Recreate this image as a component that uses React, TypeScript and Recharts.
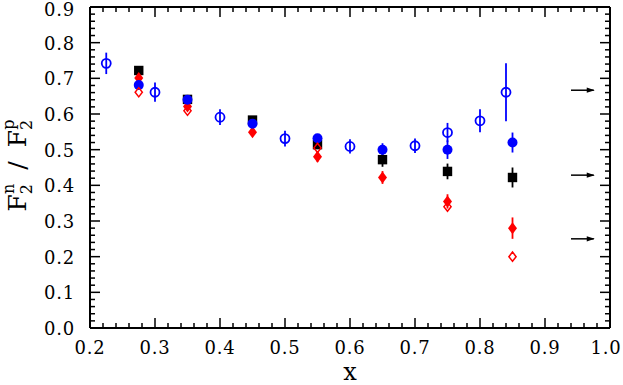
import React from 'react';
import { ScatterChart, Scatter, XAxis, YAxis, ErrorBar } from 'recharts';

// ---------- data ----------
const openBlueX = [0.225, 0.3, 0.4, 0.5, 0.6, 0.7, 0.75, 0.8, 0.84];
const openBlueY = [0.742, 0.661, 0.591, 0.531, 0.509, 0.511, 0.548, 0.581, 0.661];
const openBlueErr = [0.03, 0.027, 0.022, 0.022, 0.02, 0.02, 0.027, 0.032, 0.081];

const filledX = [0.275, 0.35, 0.45, 0.55, 0.65, 0.75, 0.85];
const blueY = [0.681, 0.64, 0.573, 0.532, 0.5, 0.5, 0.52];
const blueErr = [0.01, 0.01, 0.01, 0.012, 0.018, 0.026, 0.028];
const blackY = [0.722, 0.641, 0.583, 0.514, 0.472, 0.439, 0.422];
const blackErr = [0.01, 0.01, 0.01, 0.012, 0.02, 0.022, 0.028];
const redY = [0.701, 0.621, 0.549, 0.48, 0.422, 0.355, 0.28];
const redErr = [0.01, 0.01, 0.01, 0.015, 0.018, 0.02, 0.03];

const openRedX = [0.275, 0.35, 0.55, 0.75, 0.85];
const openRedY = [0.661, 0.609, 0.505, 0.34, 0.2];

const arrowLevels = [2 / 3, 3 / 7, 1 / 4];
const arrowStartX = 0.94;
const arrowEndX = 0.975;

const xMajor = [0.2, 0.3, 0.4, 0.5, 0.6, 0.7, 0.8, 0.9, 1.0];
const yMajor = [0.0, 0.1, 0.2, 0.3, 0.4, 0.5, 0.6, 0.7, 0.8, 0.9];

// ---------- helpers ----------
const BLUE = '#0000ff';
const RED = '#ff0000';
const BLACK = '#000000';
const FONT = '"DejaVu Serif", serif';

function withMinor(major: number[], sub: number) {
  const out: number[] = [];
  for (let i = 0; i < major.length - 1; i++) {
    for (let k = 0; k < sub; k++) {
      out.push(+(major[i] + (k * (major[i + 1] - major[i])) / sub).toFixed(4));
    }
  }
  out.push(major[major.length - 1]);
  return out;
}
const xTicks = withMinor(xMajor, 5);
const yTicks = withMinor(yMajor, 5);
const isMajor = (v: number) => Math.abs(v * 10 - Math.round(v * 10)) < 1e-6;

const zip = (xs: number[], ys: number[], es?: number[]) =>
  xs.map((x, i) => ({ x, y: ys[i], e: es ? es[i] : 0 }));

const openBlueData = zip(openBlueX, openBlueY, openBlueErr);
const blueData = zip(filledX, blueY, blueErr);
const blackData = zip(filledX, blackY, blackErr);
const redData = zip(filledX, redY, redErr);
const openRedData = zip(openRedX, openRedY);

const MAJ = 10;
const MIN = 5;
const TW = 1.5;
const labelStyle = { fontFamily: FONT, fontSize: 18, letterSpacing: 0.8 };

const BottomTick = (p: any) => {
  const v = p.payload.value;
  const m = isMajor(v);
  return (
    <g>
      <line x1={p.x} x2={p.x} y1={p.y} y2={p.y - (m ? MAJ : MIN)} stroke={BLACK} strokeWidth={TW} />
      {m && (
        <text x={Math.min(p.x, 606)} y={p.y + 26} textAnchor="middle" fill={BLACK} style={labelStyle}>
          {v.toFixed(1)}
        </text>
      )}
    </g>
  );
};
const TopTick = (p: any) => {
  const m = isMajor(p.payload.value);
  return <line x1={p.x} x2={p.x} y1={p.y} y2={p.y + (m ? MAJ : MIN)} stroke={BLACK} strokeWidth={TW} />;
};
const LeftTick = (p: any) => {
  const v = p.payload.value;
  const m = isMajor(v);
  return (
    <g>
      <line x1={p.x} x2={p.x + (m ? MAJ : MIN)} y1={p.y} y2={p.y} stroke={BLACK} strokeWidth={TW} />
      {m && (
        <text x={p.x - 15} y={Math.max(p.y + 7, 16)} textAnchor="end" fill={BLACK} style={labelStyle}>
          {v.toFixed(1)}
        </text>
      )}
    </g>
  );
};
const RightTick = (p: any) => {
  const m = isMajor(p.payload.value);
  return <line x1={p.x} x2={p.x - (m ? MAJ : MIN)} y1={p.y} y2={p.y} stroke={BLACK} strokeWidth={TW} />;
};

// ---------- markers ----------
const OpenCircle = (p: any) =>
  p.cx == null ? <g /> : <circle cx={p.cx} cy={p.cy} r={4.5} fill="none" stroke={BLUE} strokeWidth={1.8} />;
const FilledCircle = (p: any) =>
  p.cx == null ? <g /> : <circle cx={p.cx} cy={p.cy} r={5} fill={BLUE} />;
const Square = (p: any) =>
  p.cx == null ? <g /> : <rect x={p.cx - 4.7} y={p.cy - 4.7} width={9.4} height={9.4} fill={BLACK} />;
const FilledDiamond = (p: any) =>
  p.cx == null ? (
    <g />
  ) : (
    <polygon
      points={`${p.cx},${p.cy - 6} ${p.cx + 4.5},${p.cy} ${p.cx},${p.cy + 6} ${p.cx - 4.5},${p.cy}`}
      fill={RED}
    />
  );
const OpenDiamond = (p: any) =>
  p.cx == null ? (
    <g />
  ) : (
    <polygon
      points={`${p.cx},${p.cy - 4.6} ${p.cx + 3.6},${p.cy} ${p.cx},${p.cy + 4.6} ${p.cx - 3.6},${p.cy}`}
      fill="none"
      stroke={RED}
      strokeWidth={1.5}
    />
  );
const ArrowHead = (p: any) => {
  if (p.cx == null || !p.payload || p.payload.x !== arrowEndX) return <g />;
  return <polygon points={`${p.cx + 1},${p.cy} ${p.cx - 7},${p.cy - 2.6} ${p.cx - 7},${p.cy + 2.6}`} fill={BLACK} />;
};

const YLabel = (props: any) => {
  const vb = props.viewBox || { x: 0, y: 7, width: 90, height: 321 };
  const cx = vb.x + 26;
  const cy = vb.y + vb.height / 2 - 2;
  return (
    <text
      x={cx}
      y={cy}
      transform={`rotate(-90 ${cx} ${cy})`}
      textAnchor="middle"
      fill={BLACK}
      style={{ fontFamily: FONT, fontSize: 25 }}
    >
      F
      <tspan fontSize={16} dy={6}>2</tspan>
      <tspan fontSize={16} dx={-10} dy={-18}>n</tspan>
      <tspan dx={14} dy={12}>/</tspan>
      <tspan dx={14}>F</tspan>
      <tspan fontSize={16} dy={6}>2</tspan>
      <tspan fontSize={16} dx={-10} dy={-18}>p</tspan>
    </text>
  );
};

const XLabel = (props: any) => {
  const vb = props.viewBox || { x: 90, y: 328, width: 520, height: 57 };
  const cx = vb.x + vb.width / 2;
  return (
    <text x={cx} y={vb.y + 52} textAnchor="middle" fill={BLACK} style={{ fontFamily: FONT, fontSize: 24 }}>
      x
    </text>
  );
};

export default function App() {
  return (
    <div style={{ position: 'absolute', left: 0, top: 0, width: 623, height: 385, background: '#fff' }}>
      <ScatterChart width={623} height={385} margin={{ top: 0, right: 0, bottom: 0, left: 0 }}>
        <XAxis
          xAxisId={0}
          type="number"
          dataKey="x"
          domain={[0.2, 1.0]}
          ticks={xTicks}
          interval={0}
          allowDataOverflow
          height={57}
          tickSize={0}
          tickMargin={0}
          tick={BottomTick}
          axisLine={{ stroke: BLACK, strokeWidth: 2 }}
          label={{ content: XLabel }}
        />
        <XAxis
          xAxisId="top"
          orientation="top"
          type="number"
          dataKey="x"
          domain={[0.2, 1.0]}
          ticks={xTicks}
          interval={0}
          allowDataOverflow
          height={7}
          tickSize={0}
          tickMargin={0}
          tick={TopTick}
          axisLine={{ stroke: BLACK, strokeWidth: 2 }}
        />
        <YAxis
          yAxisId={0}
          type="number"
          dataKey="y"
          domain={[0, 0.9]}
          ticks={yTicks}
          interval={0}
          allowDataOverflow
          width={90}
          tickSize={0}
          tickMargin={0}
          tick={LeftTick}
          axisLine={{ stroke: BLACK, strokeWidth: 2 }}
          label={{ content: YLabel }}
        />
        <YAxis
          yAxisId="right"
          orientation="right"
          type="number"
          dataKey="y"
          domain={[0, 0.9]}
          ticks={yTicks}
          interval={0}
          allowDataOverflow
          width={13}
          tickSize={0}
          tickMargin={0}
          tick={RightTick}
          axisLine={{ stroke: BLACK, strokeWidth: 2 }}
        />
        <Scatter data={blackData} shape={Square} isAnimationActive={false}>
          <ErrorBar dataKey="e" direction="y" width={0} stroke={BLACK} strokeWidth={1.8} />
        </Scatter>
        <Scatter data={redData} shape={FilledDiamond} isAnimationActive={false}>
          <ErrorBar dataKey="e" direction="y" width={0} stroke={RED} strokeWidth={1.8} />
        </Scatter>
        <Scatter data={blueData} shape={FilledCircle} isAnimationActive={false}>
          <ErrorBar dataKey="e" direction="y" width={0} stroke={BLUE} strokeWidth={1.8} />
        </Scatter>
        <Scatter data={openRedData} shape={OpenDiamond} isAnimationActive={false} />
        <Scatter data={openBlueData} shape={OpenCircle} isAnimationActive={false}>
          <ErrorBar dataKey="e" direction="y" width={0} stroke={BLUE} strokeWidth={1.8} />
        </Scatter>
        {arrowLevels.map((lv, i) => (
          <Scatter
            key={i}
            data={[
              { x: arrowStartX, y: lv },
              { x: arrowEndX, y: lv },
            ]}
            line={{ stroke: BLACK, strokeWidth: 1.5 }}
            shape={ArrowHead}
            isAnimationActive={false}
          />
        ))}
      </ScatterChart>
    </div>
  );
}
